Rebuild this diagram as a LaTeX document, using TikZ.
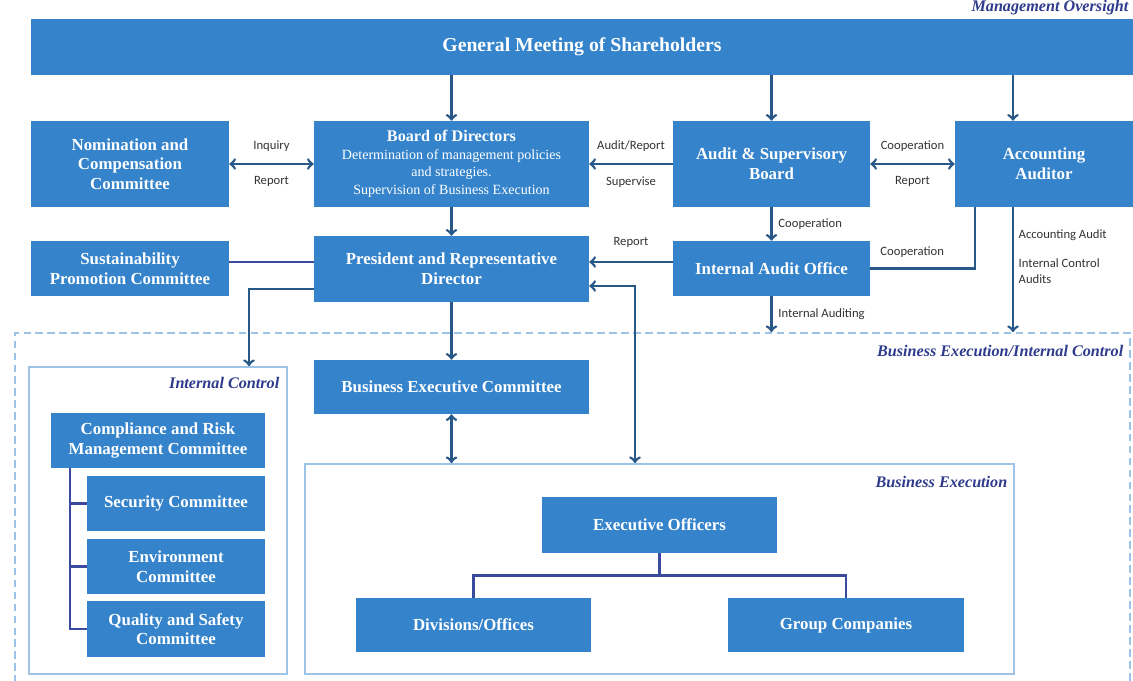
\documentclass[tikz,border=0pt]{standalone}
\usepackage{fontspec}
\setmainfont{Liberation Serif}
\newfontfamily\lblfont{Carlito}
\usetikzlibrary{positioning,arrows}

\definecolor{boxblue}{RGB}{52,131,203}
\definecolor{arrowblue}{RGB}{40,88,135}
\definecolor{treeblue}{RGB}{58,74,156}
\definecolor{framelight}{RGB}{157,195,230}
\definecolor{navy}{RGB}{46,59,140}

\newlength\px
\setlength\px{0.025cm}

\begin{document}
\begin{tikzpicture}[x=0.025cm,y=-0.025cm,align=center,
    box/.style={rectangle,fill=boxblue,text=white,font=\bfseries\fontsize{12}{14}\selectfont,inner sep=2pt},
    lbl/.style={font=\lblfont\fontsize{9}{11}\selectfont,text=black!80,inner sep=1pt},
    frame/.style={draw=framelight,line width=1.3pt,inner sep=0pt},
    ftitle/.style={font=\bfseries\itshape\fontsize{11.5}{13}\selectfont,text=navy,anchor=east,inner sep=1pt},
    arr/.style={draw=arrowblue,line width=1.9pt,->},
    arrs/.style={draw=arrowblue,line width=1.9pt,<->},
    tree/.style={draw=treeblue,line width=1.8pt}]
      \useasboundingbox (0,0) rectangle (1133,681);
      \clip (0,0) rectangle (1133,681);

    % frames
      \node[frame,dashed,dash pattern=on 5.5pt off 3pt,minimum width=1115\px,minimum height=380\px] (bic) at (572.5,523) {};
      \node[frame,minimum width=258\px,minimum height=307\px] (icf) at (158,520.5) {};
      \node[frame,minimum width=709\px,minimum height=210\px] (bef) at (659.5,569) {};

      \node[ftitle] (mo) at (1130,8) {Management Oversight};
      \node[ftitle] (bict) at (1125,351) {Business Execution/Internal Control};
      \node[ftitle] (ict) at (281,383) {Internal Control};
      \node[ftitle] (bet) at (1009,482) {Business Execution};

    % management oversight
      \node[box,minimum width=1102\px,minimum height=56\px,font=\bfseries\fontsize{14}{16}\selectfont] (gms) at (582,47) {General Meeting of Shareholders};
      \node[box,minimum width=198\px,minimum height=86\px] (nom) at (130,164) {Nomination and\\Compensation\\Committee};
      \node[box,minimum width=275\px,minimum height=86\px,font=\bfseries\fontsize{11.5}{12.5}\selectfont] (bod) at (451.5,164) {Board of Directors\\{\mdseries\fontsize{10}{11}\selectfont Determination of management policies}\\{\mdseries\fontsize{10}{11}\selectfont and strategies.}\\{\mdseries\fontsize{10}{11}\selectfont Supervision of Business Execution}};
      \node[box,minimum width=197\px,minimum height=86\px] (asb) at (771.5,164) {Audit \& Supervisory\\Board};
      \node[box,minimum width=178\px,minimum height=86\px] (acc) at (1044,164) {Accounting\\Auditor};

      \node[box,minimum width=198\px,minimum height=55\px] (sus) at (130,268.5) {Sustainability\\Promotion Committee};
      \node[box,minimum width=275\px,minimum height=66\px] (pres) at (451.5,269) {President and Representative\\Director};
      \node[box,minimum width=197\px,minimum height=55\px] (iao) at (771.5,268.5) {Internal Audit Office};

    % internal control
      \node[box,minimum width=214\px,minimum height=55\px] (comp) at (158,440.5) {Compliance and Risk\\Management Committee};
      \node[box,minimum width=178\px,minimum height=55\px] (sec) at (176,503.5) {Security Committee};
      \node[box,minimum width=178\px,minimum height=55\px] (env) at (176,566.5) {Environment\\Committee};
      \node[box,minimum width=178\px,minimum height=56\px] (qual) at (176,629) {Quality and Safety\\Committee};

    % business execution
      \node[box,minimum width=275\px,minimum height=54\px] (bec) at (451.5,387) {Business Executive Committee};
      \node[box,minimum width=235\px,minimum height=56\px] (exo) at (659.5,525) {Executive Officers};
      \node[box,minimum width=235\px,minimum height=54\px] (div) at (473.5,625) {Divisions/Offices};
      \node[box,minimum width=236\px,minimum height=54\px] (grp) at (846,625) {Group Companies};

    % helper coordinates
      \coordinate (accx) at (1013,0);
      \coordinate (accl) at (975,0);
      \coordinate (rowA) at (0,262);
      \coordinate (rowB) at (0,289);
      \coordinate (rowC) at (0,286);
      \coordinate (icx) at (249,0);
      \coordinate (bex) at (635,0);
      \coordinate (trx) at (70,0);

    % connections
      \draw[arr] (gms.south -| bod.north) -- (bod.north);
      \draw[arr] (gms.south -| asb.north) -- (asb.north);
      \draw[arr] (gms.south -| accx) -- (acc.north -| accx);

      \draw[arrs] (nom.east) -- node[lbl,above=7pt] (inq) {Inquiry} node[lbl,below=7pt] (rep1) {Report} (bod.west);
      \draw[arr] (asb.west) -- node[lbl,above=7pt] (audrep) {Audit/Report} node[lbl,below=7pt] (sup) {Supervise} (bod.east);
      \draw[arrs] (asb.east) -- node[lbl,above=7pt] (coop1) {Cooperation} node[lbl,below=7pt] (rep2) {Report} (acc.west);

      \draw[arr] (bod.south) -- (pres.north);
      \draw[arr] (asb.south) -- node[lbl,right=3pt] (coop2) {Cooperation} (iao.north);
      \draw[arr] (iao.west |- rowA) -- node[lbl,above=8pt] (rep3) {Report} (pres.east |- rowA);
      \draw[tree] (sus.east |- rowA) -- (pres.west |- rowA);
      \draw[arr,-] (acc.south -| accl) |- node[lbl,pos=0.8,above=6pt] (coop3) {Cooperation} (iao.east);

      \draw[arr] (acc.south -| accx) -- (bic.north -| accx);
      \node[lbl,anchor=west,align=left] (acca) at (1017,235) {Accounting Audit};
      \node[lbl,anchor=west,align=left] (icaud) at (1017,271) {Internal Control\\Audits};
      \draw[arr] (iao.south) -- node[lbl,right=3pt] (iaud) {Internal Auditing} (bic.north -| iao.south);

      \draw[arr] (pres.west |- rowB) -| (icf.north -| icx);
      \draw[arrs] (pres.east |- rowC) -| (bef.north -| bex);
      \draw[arr] (pres.south) -- (bec.north);
      \draw[arrs] (bec.south) -- (bef.north -| bec.south);

      % committee tree
      \draw[tree] (comp.south -| trx) |- (sec.west);
      \draw[tree] (comp.south -| trx) |- (env.west);
      \draw[tree] (comp.south -| trx) |- (qual.west);
      \draw[tree] (exo.south) -- ++(0,22) -| (div.north);
      \draw[tree] (exo.south) -- ++(0,22) -| (grp.north);

    \end{tikzpicture}
\end{document}
